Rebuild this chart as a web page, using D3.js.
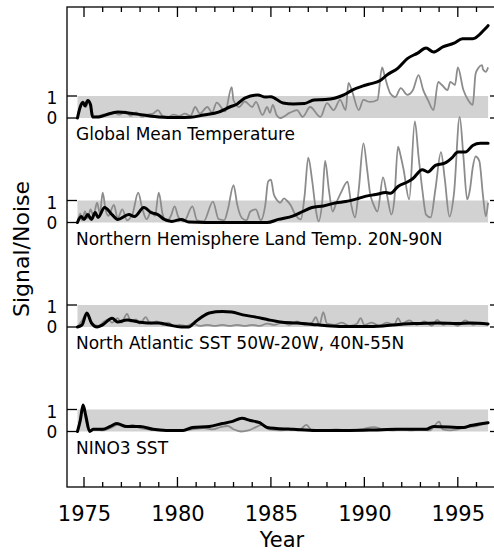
<!DOCTYPE html>
<html><head><meta charset="utf-8">
<script src="https://cdn.jsdelivr.net/npm/d3@7"></script>
<style>body{margin:0;background:#fff}svg{display:block}text{font-family:"DejaVu Sans",sans-serif;fill:#000}</style>
</head><body><svg id="c" width="494" height="552"></svg>
<script>
const panelLabels = ["Global Mean Temperature","Northern Hemisphere Land Temp. 20N-90N","North Atlantic SST 50W-20W, 40N-55N","NINO3 SST"];
const yearTicks = [1975,1980,1985,1990,1995];
const yTickLabels = ["0","1"];
const xLabel = "Year", yLabel = "Signal/Noise";
const dataStart = 1974.65, dataEnd = 1996.62;

// [year, signal/noise] — thick black (smoothed) series
const gmtBlack = [[1974.65,0],[1974.8,0.5],[1974.95,0.7],[1975.05,0.55],[1975.2,0.8],[1975.35,0.6],[1975.45,0.05],[1975.8,0.05],[1976.2,0.15],[1976.8,0.27],[1977.5,0.22],[1978.3,0.12],[1979.0,0.05],[1980.0,0.02],[1980.7,0.03],[1981.4,0.14],[1982.2,0.27],[1982.8,0.5],[1983.2,0.64],[1983.6,0.9],[1984.3,1.05],[1984.7,0.95],[1985.0,0.97],[1985.65,0.68],[1986.2,0.64],[1986.8,0.66],[1987.3,0.82],[1987.9,0.84],[1988.4,0.9],[1988.9,1.05],[1989.35,1.27],[1989.9,1.45],[1990.3,1.55],[1990.85,1.7],[1991.2,1.95],[1991.8,2.27],[1992.3,2.7],[1992.85,2.95],[1993.3,3.18],[1993.7,3.0],[1994.2,3.23],[1994.8,3.4],[1995.25,3.6],[1995.8,3.6],[1996.4,4.0],[1996.62,4.2]];
const nhBlack = [[1974.65,0],[1974.85,0.27],[1975.0,0.14],[1975.2,0.36],[1975.4,0.14],[1975.6,0.45],[1975.75,0.23],[1976.1,0.68],[1976.5,0.36],[1976.8,0.14],[1977.4,0.36],[1977.7,0.27],[1978.2,0.68],[1978.6,0.45],[1978.95,0.36],[1979.3,0.14],[1979.7,0.05],[1980.2,0.14],[1980.6,0.02],[1981.5,0],[1982.5,0],[1983.5,0],[1984.8,0],[1985.4,0.14],[1986.2,0.3],[1986.7,0.5],[1987.2,0.68],[1987.8,0.75],[1988.5,0.9],[1989.0,0.95],[1989.7,1.1],[1990.1,1.2],[1990.6,1.27],[1991.15,1.36],[1991.4,1.33],[1991.8,1.64],[1992.35,1.86],[1992.6,2.0],[1993.1,2.4],[1993.4,2.3],[1993.8,2.6],[1994.3,2.7],[1994.7,2.95],[1995.0,3.2],[1995.4,3.2],[1995.8,3.5],[1996.2,3.6],[1996.62,3.6]];
const natBlack = [[1974.65,0],[1974.9,0.1],[1975.15,0.64],[1975.4,0.18],[1975.7,0],[1976.0,0.1],[1976.5,0.4],[1976.8,0.23],[1977.3,0.32],[1977.9,0.23],[1978.4,0.18],[1979.0,0.18],[1979.5,0.1],[1980.2,0],[1980.6,0],[1980.95,0.23],[1981.3,0.45],[1981.7,0.64],[1982.4,0.7],[1982.9,0.68],[1983.5,0.55],[1984.2,0.45],[1984.9,0.32],[1985.5,0.23],[1986.4,0.18],[1987.5,0.1],[1988.2,0.05],[1989.0,0.02],[1990.0,0.02],[1991.0,0.05],[1992.1,0.14],[1993.0,0.16],[1993.9,0.18],[1995.0,0.16],[1995.7,0.18],[1996.62,0.14]];
const ninoBlack = [[1974.65,0],[1974.8,0.5],[1974.95,1.2],[1975.1,0.7],[1975.3,0],[1975.5,0.1],[1976.0,0.1],[1976.4,0.23],[1976.75,0.36],[1977.3,0.23],[1978.0,0.23],[1978.7,0.1],[1979.4,0.05],[1980.3,0.05],[1980.8,0.18],[1981.7,0.23],[1982.4,0.36],[1982.9,0.45],[1983.45,0.6],[1983.9,0.5],[1984.4,0.4],[1984.8,0.18],[1985.3,0.14],[1986.2,0.1],[1987.4,0.05],[1989.2,0.05],[1990.5,0.07],[1991.7,0.1],[1993.3,0.1],[1993.7,0.23],[1995.3,0.18],[1995.7,0.27],[1996.62,0.4]];

// [year, signal/noise] — thin grey (unsmoothed) series
const gmtGray = [[1974.65,0],[1974.8,0.6],[1974.95,0.75],[1975.1,0.5],[1975.25,0.8],[1975.4,0.4],[1975.55,0.05],[1975.8,0.1],[1976.0,0.15],[1976.3,0.2],[1976.6,0.25],[1976.9,0.15],[1977.2,0.3],[1977.5,0.1],[1977.8,0.25],[1978.1,0.05],[1978.4,0.15],[1978.7,0.2],[1978.95,0.36],[1979.2,0.1],[1979.5,0.05],[1979.8,0.15],[1980.1,0.1],[1980.4,0.2],[1980.7,0.1],[1980.95,0.5],[1981.2,0.2],[1981.6,0.5],[1981.85,0.25],[1982.1,0.7],[1982.55,0.3],[1982.9,1.4],[1983.0,0.8],[1983.3,0.5],[1983.6,0.75],[1984.0,0.5],[1984.2,0.73],[1984.55,0.14],[1984.8,0.5],[1984.95,0.23],[1985.1,0.6],[1985.3,0.14],[1985.5,0],[1986.0,0.23],[1986.4,0.36],[1986.7,0.05],[1987.1,0.5],[1987.65,0.05],[1988.0,0.68],[1988.35,0.36],[1988.7,0.82],[1989.0,0.36],[1989.15,1.6],[1989.35,1.2],[1989.7,0.36],[1989.95,0.82],[1990.3,0.73],[1990.7,0.82],[1990.95,2.3],[1991.1,1.86],[1991.4,1.1],[1991.65,0.95],[1991.95,1.36],[1992.3,1.05],[1992.6,1.27],[1992.9,1.95],[1993.15,1.27],[1993.4,0.82],[1993.7,0.36],[1993.95,1.64],[1994.15,1.5],[1994.45,1.27],[1994.6,1.64],[1994.85,1.5],[1995.0,2.3],[1995.3,1.27],[1995.55,0.82],[1995.8,0.6],[1995.95,2.0],[1996.1,2.27],[1996.3,2.4],[1996.35,2.2],[1996.5,2.1],[1996.62,2.3]];
const nhGray = [[1974.65,0],[1974.8,0.4],[1974.9,0.1],[1975.05,0.5],[1975.2,0.2],[1975.35,0.6],[1975.5,0.3],[1975.7,0.9],[1975.85,0.4],[1976.0,1.36],[1976.15,0.6],[1976.3,0.3],[1976.6,0.8],[1976.8,0.2],[1977.05,0.6],[1977.3,0.1],[1977.6,0.4],[1977.9,1.36],[1978.1,0.7],[1978.35,0.15],[1978.6,0.5],[1978.8,0.3],[1979.0,1.36],[1979.2,0.4],[1979.4,0.05],[1979.65,0.3],[1979.85,0.73],[1980.05,0.25],[1980.35,0.05],[1980.8,0.73],[1981.05,0.1],[1981.4,0.05],[1981.9,0.95],[1982.2,0.15],[1982.5,0.1],[1982.7,0.6],[1983.0,1.7],[1983.2,0.8],[1983.45,0.2],[1983.7,0.1],[1983.9,0.5],[1984.2,0.6],[1984.45,0.1],[1984.7,0.8],[1984.85,1.86],[1985.0,1.95],[1985.15,1.3],[1985.3,1.05],[1985.5,0.9],[1985.7,1.1],[1985.85,1.0],[1986.05,0.8],[1986.3,0.36],[1986.6,0.14],[1986.8,1.2],[1987.0,2.95],[1987.2,1.95],[1987.4,0.6],[1987.55,0.05],[1987.75,1.0],[1987.9,2.8],[1988.1,1.5],[1988.3,0.5],[1988.5,0.9],[1988.75,1.36],[1989.1,1.86],[1989.3,0.8],[1989.5,0.23],[1989.7,1.5],[1989.95,3.6],[1990.15,2.4],[1990.3,1.36],[1990.5,0.8],[1990.7,0.5],[1991.0,2.05],[1991.2,1.3],[1991.45,0.36],[1991.6,1.0],[1991.8,3.45],[1991.95,3.0],[1992.1,2.4],[1992.4,1.05],[1992.7,4.6],[1992.9,3.0],[1993.1,1.5],[1993.3,0.36],[1993.55,0.23],[1993.8,1.5],[1994.1,3.2],[1994.3,2.0],[1994.55,0.27],[1994.8,1.36],[1995.1,4.8],[1995.3,3.0],[1995.5,1.05],[1995.65,1.5],[1995.8,2.5],[1995.95,3.0],[1996.15,2.8],[1996.35,1.2],[1996.5,0.27],[1996.62,0.9]];
const natGray = [[1974.65,0],[1974.9,0.3],[1975.15,0.6],[1975.35,0.3],[1975.55,0.1],[1975.8,0.05],[1976.0,0.2],[1976.3,0.35],[1976.5,0.2],[1976.8,0.4],[1977.0,0.2],[1977.3,0.6],[1977.5,0.25],[1977.8,0.35],[1978.0,0.15],[1978.3,0.45],[1978.55,0.15],[1978.9,0.25],[1979.2,0.1],[1979.5,0.2],[1979.8,0.05],[1980.1,0.1],[1980.5,0.05],[1980.8,0.15],[1981.2,0.05],[1981.6,0.1],[1982.0,0.05],[1982.4,0.1],[1982.8,0.05],[1983.2,0.1],[1983.6,0.05],[1984.0,0.1],[1984.4,0.05],[1984.8,0.15],[1985.2,0.1],[1985.6,0.2],[1986.0,0.1],[1986.4,0.25],[1986.8,0.1],[1987.2,0.2],[1987.4,0.45],[1987.6,0.1],[1987.8,0.68],[1988.0,0.15],[1988.4,0.1],[1988.8,0.2],[1989.2,0.05],[1989.6,0.15],[1989.8,0.4],[1990.0,0.1],[1990.4,0.2],[1990.8,0.05],[1991.2,0.2],[1991.6,0.1],[1991.8,0.4],[1992.0,0.15],[1992.4,0.3],[1992.8,0.1],[1993.2,0.25],[1993.6,0.05],[1993.9,0.32],[1994.2,0.1],[1994.6,0.2],[1995.0,0.05],[1995.4,0.3],[1995.8,0.1],[1996.2,0.2],[1996.62,0.1]];
const ninoGray = [[1974.65,0],[1974.8,0.6],[1974.95,1.15],[1975.1,0.5],[1975.25,0.05],[1975.6,0.1],[1976.0,0.05],[1976.4,0.15],[1976.8,0.3],[1977.2,0.2],[1977.6,0.3],[1978.0,0.15],[1978.5,0.1],[1979.0,0.05],[1979.6,0.05],[1980.2,0.05],[1980.8,0.1],[1981.4,0.15],[1981.9,0.1],[1982.3,0.2],[1982.7,0.25],[1983.0,0.1],[1983.4,0.0],[1983.8,0.05],[1984.2,0.2],[1984.5,0.3],[1984.9,0.1],[1985.5,0.05],[1986.0,0.1],[1986.5,0.05],[1986.9,0.3],[1987.2,0.05],[1987.8,0.05],[1988.5,0.1],[1989.2,0.05],[1989.8,0.1],[1990.5,0.2],[1991.0,0.1],[1991.5,0.05],[1992.0,0.1],[1992.5,0.05],[1993.0,0.1],[1993.5,0.05],[1994.0,0.45],[1994.2,0.1],[1994.6,0.05],[1995.0,0.1],[1995.5,0.2],[1996.0,0.25],[1996.62,0.4]];

const blackSeries = [gmtBlack, nhBlack, natBlack, ninoBlack];
const graySeries = [gmtGray, nhGray, natGray, ninoGray];

const svg = d3.select("#c");
const L = 67, R = 495, T = 7, B = 487;
const x = d3.scaleLinear().domain([1974.09, 1996.99]).range([L, R]);
const zeroY = [118, 222.5, 327, 431.5];
const unit = 22;
const ys = zeroY.map(z => d3.scaleLinear().domain([0, 1]).range([z, z - unit]));

// bands
ys.forEach(y => {
  svg.append("rect").attr("x", x(dataStart)).attr("y", y(1))
    .attr("width", x(dataEnd) - x(dataStart)).attr("height", y(0) - y(1))
    .attr("fill", "#d2d2d2");
});

// grey lines
graySeries.forEach((s, i) => {
  const line = d3.line().x(d => x(d[0])).y(d => ys[i](d[1])).curve(d3.curveMonotoneX);
  svg.append("path").attr("d", line(s)).attr("fill", "none")
    .attr("stroke", "#8c8c8c").attr("stroke-width", 1.8).attr("stroke-linejoin", "round");
});
// black lines
blackSeries.forEach((s, i) => {
  const line = d3.line().x(d => x(d[0])).y(d => ys[i](d[1])).curve(d3.curveMonotoneX);
  svg.append("path").attr("d", line(s)).attr("fill", "none")
    .attr("stroke", "#000").attr("stroke-width", 3).attr("stroke-linejoin", "round").attr("stroke-linecap", "round");
});

// frame
svg.append("rect").attr("x", L).attr("y", T).attr("width", R - L).attr("height", B - T)
  .attr("fill", "none").attr("stroke", "#000").attr("stroke-width", 1.3);

// x ticks (top and bottom, inward)
const minor = d3.range(1975, 1997);
minor.forEach(yr => {
  const len = yr % 5 === 0 ? 10 : 5;
  svg.append("line").attr("x1", x(yr)).attr("x2", x(yr)).attr("y1", T).attr("y2", T + len).attr("stroke", "#000").attr("stroke-width", 1.3);
  svg.append("line").attr("x1", x(yr)).attr("x2", x(yr)).attr("y1", B).attr("y2", B - len).attr("stroke", "#000").attr("stroke-width", 1.3);
});
const xAxis = d3.axisBottom(x).tickValues(yearTicks).tickFormat(d3.format("d")).tickSize(0).tickPadding(0);
const gx = svg.append("g").attr("transform", `translate(0,${B})`).call(xAxis);
gx.select(".domain").remove();
gx.selectAll("text").attr("y", 34).attr("dy", null).style("font-size", "21px").style("font-family", "DejaVu Sans");

svg.append("text").attr("x", 282).attr("y", 547).attr("text-anchor", "middle")
  .style("font-size", "21px").text(xLabel);
svg.append("text").attr("transform", "translate(29,249) rotate(-90)").attr("text-anchor", "middle")
  .style("font-size", "22px").text(yLabel);

// y ticks & labels per panel
ys.forEach((y, i) => {
  [0, 1].forEach(v => {
    svg.append("line").attr("x1", L).attr("x2", L + 10).attr("y1", y(v)).attr("y2", y(v)).attr("stroke", "#000").attr("stroke-width", 1.3);
    svg.append("line").attr("x1", R - 5).attr("x2", R).attr("y1", y(v)).attr("y2", y(v)).attr("stroke", "#000").attr("stroke-width", 1.3);
  });
  svg.append("text").attr("x", 52).attr("y", y(1) + 8).attr("text-anchor", "middle").style("font-size", "17px").text(yTickLabels[1]);
  svg.append("text").attr("x", 52).attr("y", y(0) + 6).attr("text-anchor", "middle").style("font-size", "17px").text(yTickLabels[0]);
  svg.append("text").attr("x", 76).attr("y", y(0) + 22).style("font-size", "17px").text(panelLabels[i]);
});
</script></body></html>
